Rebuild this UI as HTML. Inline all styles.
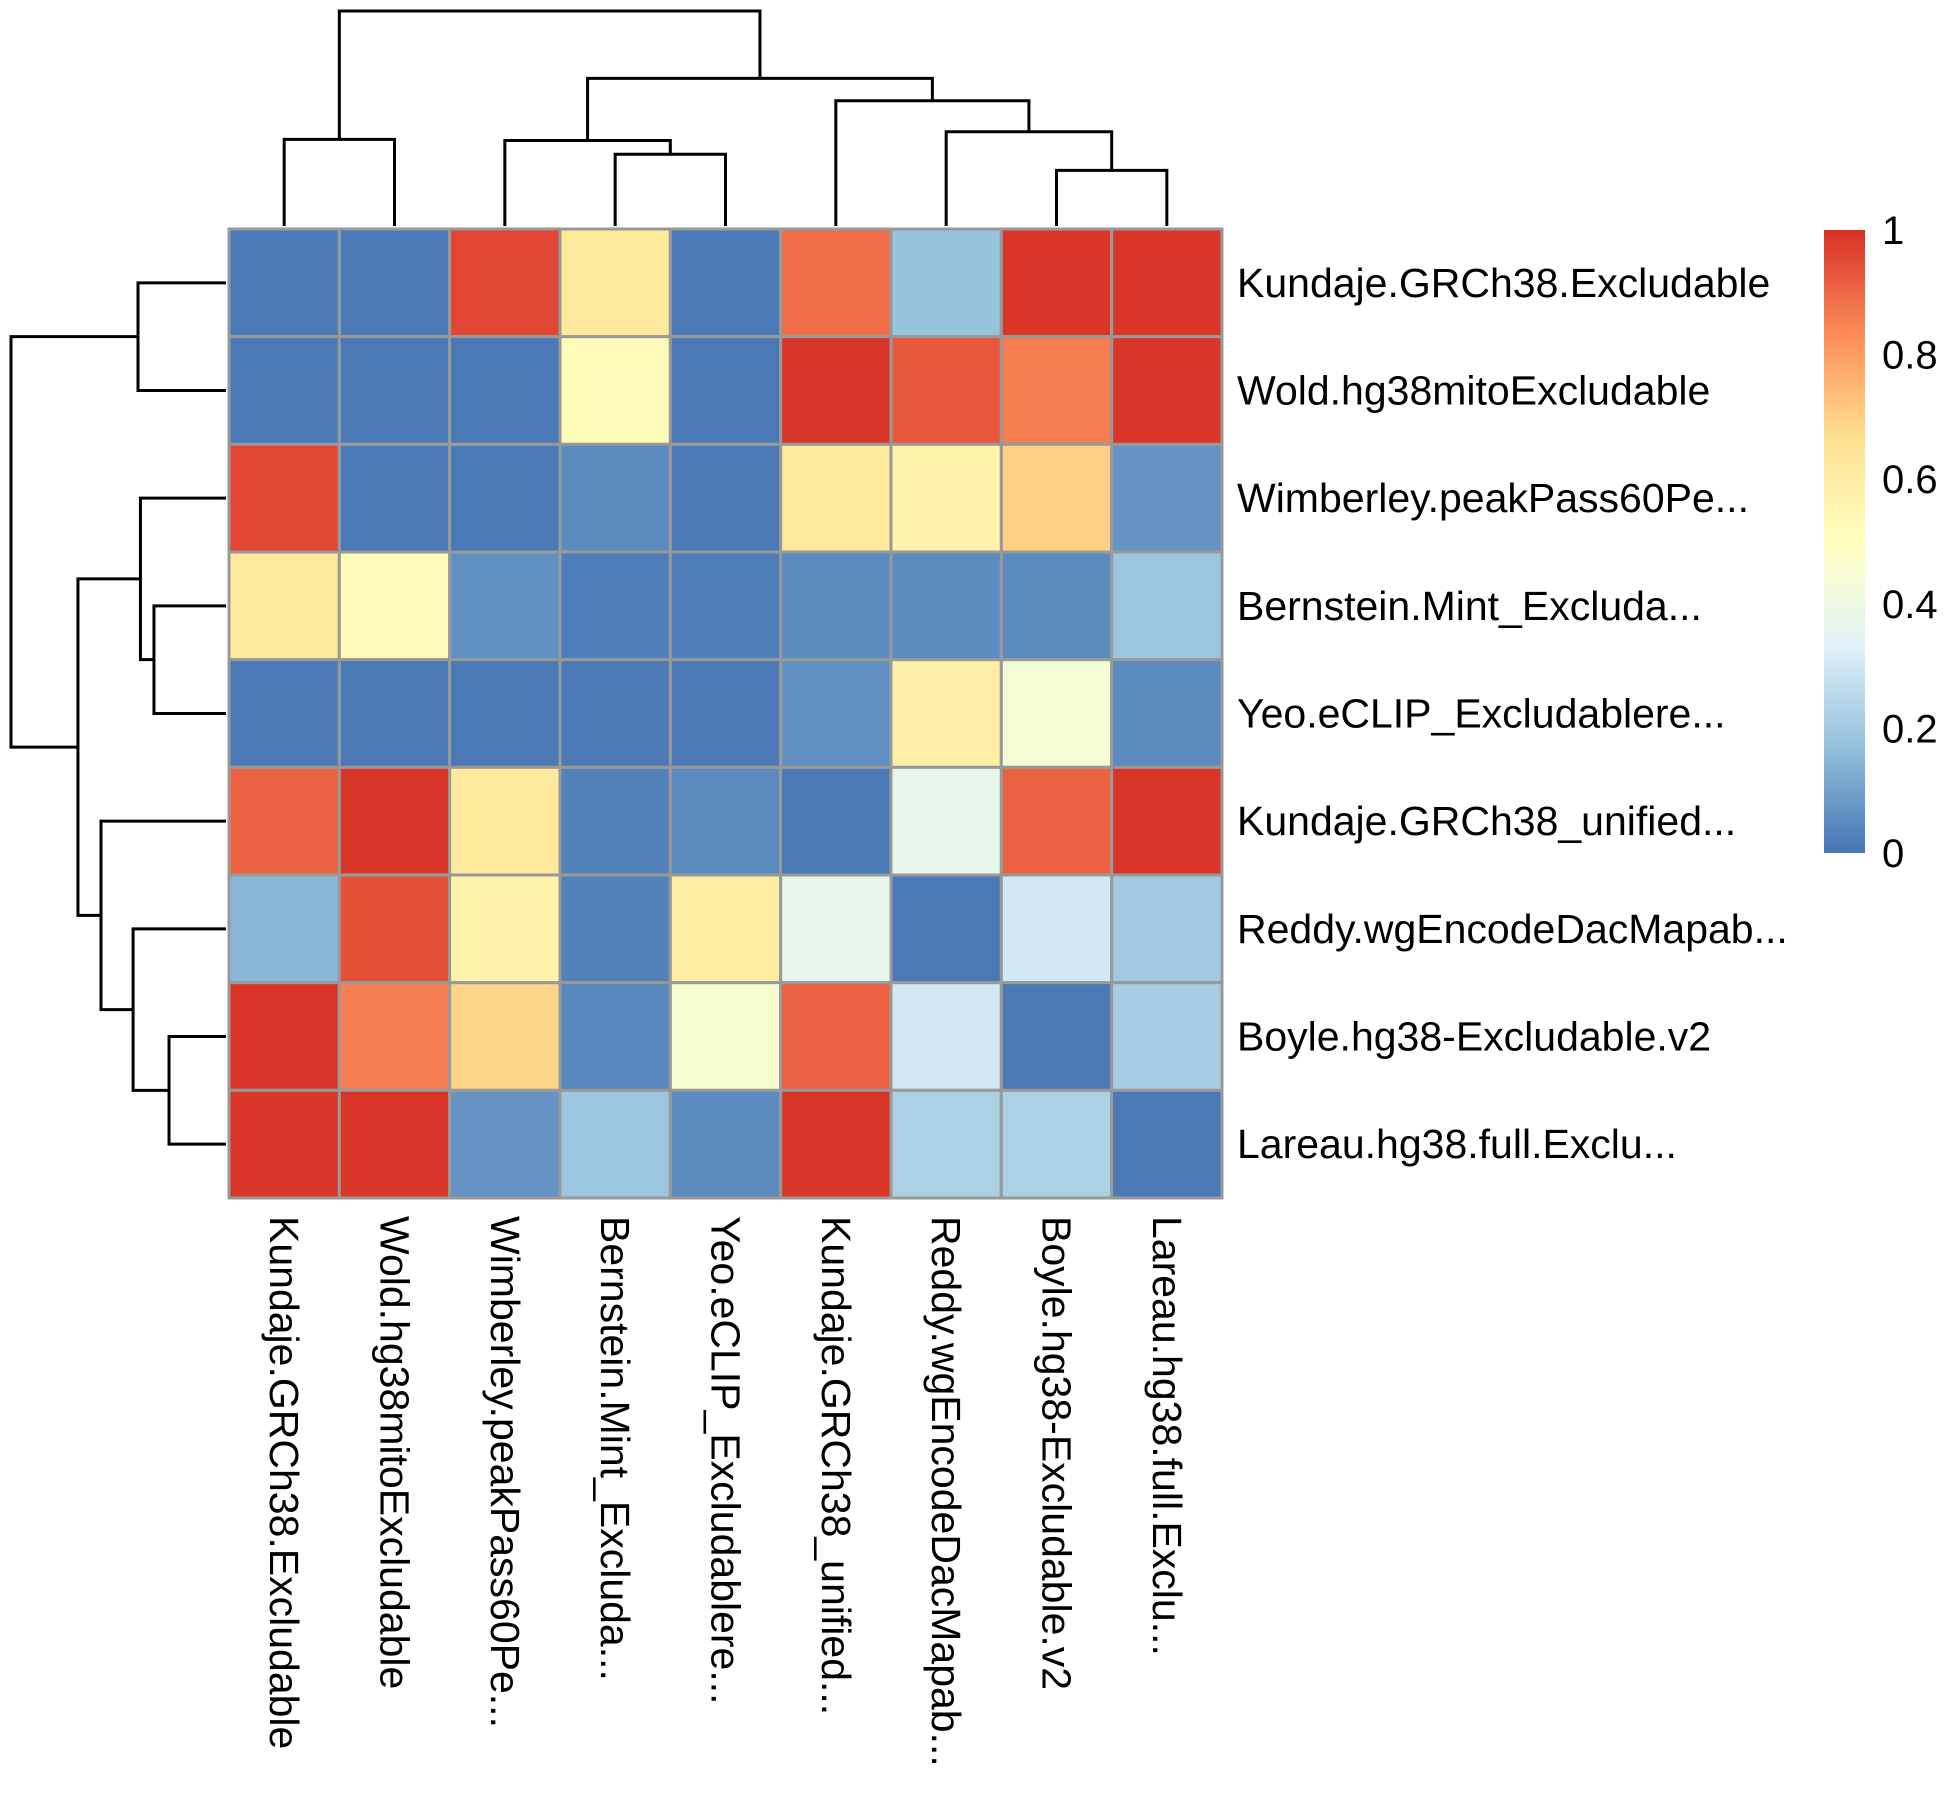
<!DOCTYPE html>
<html><head><meta charset="utf-8"><style>
html,body{margin:0;padding:0;background:#fff;}
svg{display:block;font-family:"Liberation Sans",sans-serif;}
</style></head><body>
<svg id="chart" width="1950" height="1800" viewBox="0 0 1950 1800" xmlns="http://www.w3.org/2000/svg">
<defs><linearGradient id="cbgrad" x1="0" y1="1" x2="0" y2="0">
<stop offset="0" stop-color="#4575B4"/><stop offset="0.1667" stop-color="#91BFDB"/><stop offset="0.3333" stop-color="#E0F3F8"/><stop offset="0.5" stop-color="#FFFFBF"/><stop offset="0.6667" stop-color="#FEE090"/><stop offset="0.8333" stop-color="#FC8D59"/><stop offset="1" stop-color="#D73027"/></linearGradient></defs>
<g id="cells"></g>
<g id="rowlabels"></g>
<g id="collabels"></g>
<g id="topdend"></g>
<g id="leftdend"></g>
<g id="legend"></g>
</svg>
<script>
const rowNames = ["Kundaje.GRCh38.Excludable","Wold.hg38mitoExcludable","Wimberley.peakPass60Pe...","Bernstein.Mint_Excluda...","Yeo.eCLIP_Excludablere...","Kundaje.GRCh38_unified...","Reddy.wgEncodeDacMapab...","Boyle.hg38-Excludable.v2","Lareau.hg38.full.Exclu..."];
const colNames = ["Kundaje.GRCh38.Excludable","Wold.hg38mitoExcludable","Wimberley.peakPass60Pe...","Bernstein.Mint_Excluda...","Yeo.eCLIP_Excludablere...","Kundaje.GRCh38_unified...","Reddy.wgEncodeDacMapab...","Boyle.hg38-Excludable.v2","Lareau.hg38.full.Exclu..."];
const values = [
 [0.01,0.01,0.96,0.62,0.01,0.89,0.18,0.99,0.99],
 [0.01,0.01,0.01,0.52,0.01,0.99,0.93,0.86,0.99],
 [0.96,0.01,0.01,0.05,0.01,0.62,0.57,0.70,0.07],
 [0.62,0.52,0.06,0.02,0.02,0.05,0.05,0.05,0.19],
 [0.01,0.01,0.01,0.01,0.01,0.06,0.59,0.44,0.05],
 [0.91,0.99,0.62,0.03,0.05,0.01,0.37,0.91,0.99],
 [0.15,0.94,0.57,0.03,0.60,0.37,0.01,0.30,0.20],
 [0.99,0.86,0.69,0.04,0.45,0.91,0.30,0.01,0.21],
 [0.99,0.99,0.07,0.19,0.05,0.99,0.22,0.22,0.01]
];
const legendTicks = [0,0.2,0.4,0.6,0.8,1];
const legendTickLabels = ["0","0.2","0.4","0.6","0.8","1"];
// dendrogram merges: [left child, right child, height]; leaves 0..8, merges numbered 9..16
const colMerges = [[0,1,0.633],[3,4,0.524],[2,10,0.624],[7,8,0.406],[6,12,0.688],[5,13,0.915],[11,14,1.078],[9,15,1.57]];
const rowMerges = [[0,1,0.573],[3,4,0.469],[2,10,0.557],[7,8,0.371],[6,12,0.605],[5,13,0.814],[11,14,0.964],[9,15,1.40]];

const NS="http://www.w3.org/2000/svg";
const X0=229,Y0=229,X1=1222,Y1=1198;
const cw=(X1-X0)/colNames.length, ch=(Y1-Y0)/rowNames.length;
const xCol=i=>X0+cw*(i+0.5), yRow=i=>Y0+ch*(i+0.5);
const stops=["#4575B4","#91BFDB","#E0F3F8","#FFFFBF","#FEE090","#FC8D59","#D73027"];
function hex(h){return [1,3,5].map(k=>parseInt(h.substr(k,2),16));}
function color(v){v=Math.max(0,Math.min(1,v));const p=v*6,i=Math.min(5,Math.floor(p)),t=p-i;const a=hex(stops[i]),b=hex(stops[i+1]);return "rgb("+a.map((c,k)=>Math.round(c+(b[k]-c)*t)).join(",")+")";}
function mk(tag,attrs,parent){const e=document.createElementNS(NS,tag);for(const k in attrs)e.setAttribute(k,attrs[k]);parent.appendChild(e);return e;}

const gc=document.getElementById('cells');
values.forEach((row,r)=>row.forEach((v,c)=>{
 const el=mk('rect',{x:X0+c*cw,y:Y0+r*ch,width:cw,height:ch,fill:color(v),stroke:'#999999','stroke-width':3},gc);
 
 
}));
const gr=document.getElementById('rowlabels');
rowNames.forEach((n,r)=>{
 const t=mk('text',{x:1237,y:yRow(r)+14,'font-size':41,fill:'#000'},gr);t.textContent=n;
 
 
});
const gcl=document.getElementById('collabels');
colNames.forEach((n,c)=>{
 const t=mk('text',{x:0,y:0,'font-size':41,fill:'#000','dominant-baseline':'central',transform:'translate('+xCol(c)+',1216) rotate(90)'},gcl);t.textContent=n;
 
 
});
function dend(merges,g,leafPos,hToPos,horizontal){
 const pos=[],hh=[];
 for(let i=0;i<9;i++){pos.push(leafPos(i));hh.push(0);}
 merges.forEach(m=>{
  const [a,b,h]=m;const pa=pos[a],pb=pos[b];const H=hToPos(h),ha=hToPos(hh[a]),hb=hToPos(hh[b]);
  let d;
  if(horizontal) d='M'+pa+','+ha+' V'+H+' H'+pb+' V'+hb;
  else d='M'+ha+','+pa+' H'+H+' V'+pb+' H'+hb;
  const p=mk('path',{d:d,fill:'none',stroke:'#000','stroke-width':3},g);
  
  
  pos.push((pa+pb)/2);hh.push(h);
 });
}
dend(colMerges,document.getElementById('topdend'),xCol,h=>226-h*(226-11)/1.57,true);
dend(rowMerges,document.getElementById('leftdend'),yRow,h=>226-h*(226-11)/1.40,false);
const gl=document.getElementById('legend');
const cb=mk('rect',{x:1824,y:230,width:41,height:623,fill:'url(#cbgrad)'},gl);


const yLeg=v=>853-v*623;
legendTicks.forEach((v,i)=>{
 const t=mk('text',{x:1882,y:yLeg(v)+14,'font-size':40,fill:'#000'},gl);t.textContent=legendTickLabels[i];
 
 
});
</script>
</body></html>
